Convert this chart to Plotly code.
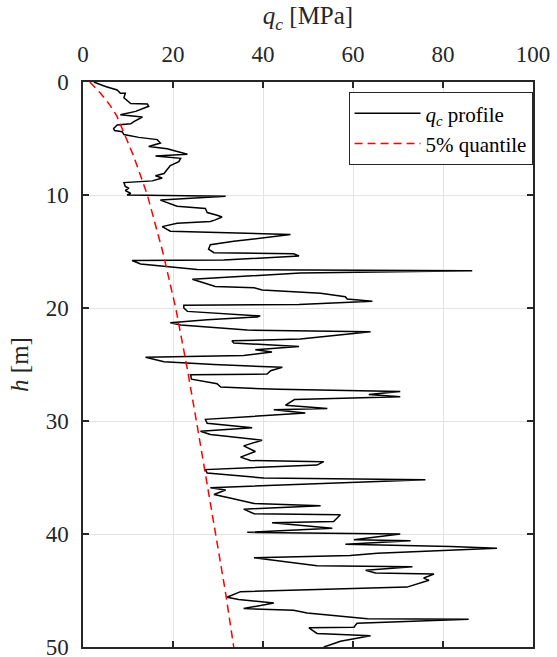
import plotly.graph_objects as go

# q_c profile (depth h [m], cone resistance qc [MPa])
h_profile = [0.0, 0.4, 0.7, 1.0, 1.0, 1.4, 1.9, 1.95, 2.15, 2.6, 2.9, 3.1, 3.5, 3.7, 3.8, 4.1, 4.3, 4.4,
             4.65, 4.9, 5.1, 5.4, 5.7, 5.9, 6.4, 6.55, 6.75, 7.05, 7.4, 7.8, 8.1, 8.3, 8.5, 8.75, 8.9,
             9.25, 9.4, 9.6, 9.85, 10.0, 10.1, 10.45, 11.0, 11.2, 11.55, 11.8, 11.95, 12.2, 12.35, 12.5,
             12.8, 13.2, 13.5, 14.1, 14.4, 14.8, 15.1, 15.2, 15.4, 15.75, 15.8, 16.1, 16.6, 16.7, 16.9,
             17.45, 18.1, 18.2, 18.4, 18.7, 19.0, 19.2, 19.4, 19.7, 19.75, 20.0, 20.3, 20.7, 20.8, 21.05,
             21.3, 21.5, 21.95, 22.1, 22.75, 22.9, 23.1, 23.4, 23.7, 23.9, 24.0, 24.2, 24.35, 24.75, 25.0,
             25.15, 25.25, 25.55, 25.85, 25.9, 26.3, 26.7, 27.0, 27.2, 27.4, 27.65, 27.85, 28.1, 28.6,
             28.9, 29.0, 29.3, 29.85, 30.2, 30.6, 30.9, 31.2, 31.7, 32.0, 32.2, 32.7, 33.2, 33.5, 33.6,
             33.9, 34.2, 34.3, 34.6, 35.05, 35.2, 35.9, 36.1, 36.5, 36.8, 37.3, 37.5, 37.8, 38.2, 38.3,
             38.9, 39.0, 39.5, 39.85, 40.0, 40.5, 40.6, 40.9, 41.1, 41.25, 41.7, 41.9, 42.1, 42.8, 42.9,
             43.2, 43.45, 43.55, 43.9, 44.1, 44.7, 45.1, 45.6, 45.8, 46.1, 46.6, 46.75, 47.0, 47.5, 47.55,
             47.9, 48.25, 48.3, 48.8, 49.0, 49.5, 49.8, 50.0]
qc_profile = [2.4, 5.0, 7.6, 8.3, 9.4, 9.1, 10.6, 14.3, 14.6, 11.7, 8.3, 13.2, 11.3, 10.6, 7.6, 6.8, 7.0, 8.7,
              9.1, 12.4, 16.5, 17.2, 14.6, 18.7, 23.2, 16.1, 21.7, 21.3, 19.4, 18.7, 18.0, 16.1, 17.6, 15.4, 9.1,
              9.4, 10.2, 9.4, 10.6, 9.8, 31.7, 17.2, 20.9, 27.2, 27.6, 29.8, 30.9, 29.4, 28.3, 20.9,
              17.6, 19.4, 46.1, 33.5, 28.3, 27.9, 29.1, 46.8, 48.0, 31.3, 10.9, 12.8, 25.4, 86.5, 48.3,
              24.3, 29.4, 38.0, 39.8, 52.8, 58.3, 58.7, 64.3, 48.0, 22.4, 22.4, 23.2, 39.4, 38.7, 27.6,
              19.4, 21.7, 36.5, 63.9, 48.3, 33.1, 33.5, 48.0, 38.3, 42.0, 39.4, 35.7, 13.9, 18.0, 29.1,
              40.9, 44.3, 41.7, 40.9, 23.9, 24.1, 29.8, 30.6, 43.5, 70.5, 63.5, 70.5, 47.0, 45.0,
              54.3, 42.4, 49.4, 27.2, 27.6, 37.6, 26.1, 28.3, 39.8, 37.2, 35.7, 38.3, 35.0, 37.2, 53.5,
              52.0, 35.7, 27.2, 27.6, 40.2, 76.1, 28.3, 31.7, 29.1, 32.4, 38.0, 52.8, 35.7, 38.0, 57.2,
              55.7, 42.0, 55.4, 36.5, 70.5, 60.2, 72.8, 58.3, 81.7, 92.0, 65.4, 59.4, 38.0, 52.0, 73.2,
              62.8, 65.0, 78.0, 75.7, 76.9, 72.0, 35.0, 32.0, 34.6, 42.4, 35.7, 46.8, 49.8, 63.2, 85.7,
              60.9, 60.2, 50.2, 52.0, 63.9, 57.2, 55.0, 53.5]

# 5% quantile curve
h_quantile = [0, 1, 2, 3, 4.5, 6.5, 10, 15, 20, 25, 30, 35, 40, 45, 50]
qc_quantile = [1.5, 3.9, 5.9, 7.5, 9.1, 11.2, 14.3, 17.7, 20.6, 23.0, 25.2, 27.3, 29.4, 31.6, 33.5]

x_ticks = [0, 20, 40, 60, 80, 100]
y_ticks = [0, 10, 20, 30, 40, 50]

FONT = "Liberation Serif"
AX = "#262626"

fig = go.Figure()
fig.add_trace(go.Scatter(x=qc_profile, y=h_profile, mode="lines",
                         line=dict(color="black", width=1.5),
                         name="<i>q</i><sub><i>c</i></sub> profile"))
fig.add_trace(go.Scatter(x=qc_quantile, y=h_quantile, mode="lines",
                         line=dict(color="#ff0000", width=1.5, dash="8px,5px"),
                         name="5% quantile"))

axis_common = dict(showline=True, linecolor=AX, linewidth=1.5, mirror="allticks",
                   ticks="inside", ticklen=6, tickwidth=1.5, tickcolor=AX,
                   showgrid=True, gridcolor="#e3e3e3", gridwidth=1, zeroline=False,
                   ticklabeloverflow="allow", automargin=False,
                   tickfont=dict(family=FONT, size=23, color=AX))

fig.update_layout(
    width=557, height=657,
    margin=dict(l=83, r=24, t=82, b=10),
    plot_bgcolor="white", paper_bgcolor="white",
    font=dict(family=FONT, color=AX),
    xaxis=dict(range=[0, 100], side="top", tickvals=x_ticks, ticklabelstandoff=9,
               title=dict(text="<i>q</i><sub><i>c</i></sub> [MPa]", font=dict(family=FONT, size=25, color=AX), standoff=10),
               **axis_common),
    yaxis=dict(range=[50, 0], tickvals=y_ticks, ticklabelstandoff=8,
               title=dict(text="<i>h</i> [m]", font=dict(family=FONT, size=25, color=AX), standoff=10),
               **axis_common),
    legend=dict(x=0.999, xanchor="right", y=0.982, yanchor="top",
                bgcolor="white", bordercolor=AX, borderwidth=1,
                font=dict(family=FONT, size=21, color="black"),
                tracegroupgap=0, itemwidth=66),
    showlegend=True,
)

fig.write_html("out.html", config={"displayModeBar": False},
               post_script="document.body.style.margin='0';")
